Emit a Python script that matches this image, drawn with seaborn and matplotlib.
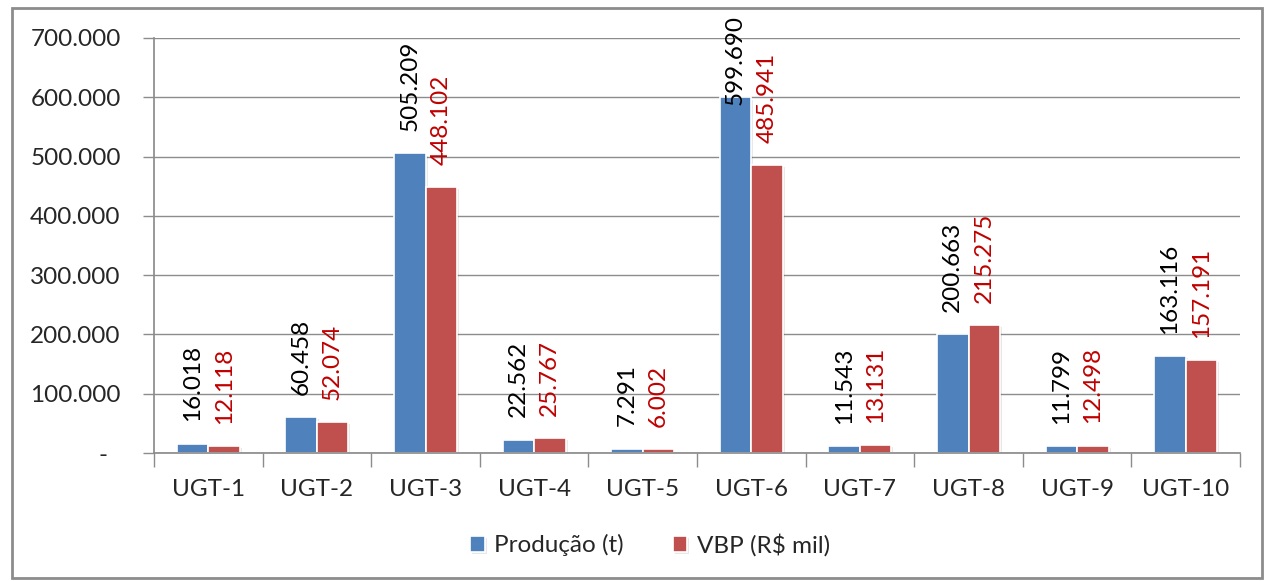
import numpy as np
import pandas as pd
import matplotlib
matplotlib.use("Agg")
import matplotlib.pyplot as plt
import matplotlib.patheffects as pe
from matplotlib.patches import Rectangle
import seaborn as sns

# data
categorias = ["UGT-1", "UGT-2", "UGT-3", "UGT-4", "UGT-5",
              "UGT-6", "UGT-7", "UGT-8", "UGT-9", "UGT-10"]
producao = [16018, 60458, 505209, 22562, 7291, 599690, 11543, 200663, 11799, 163116]
vbp = [12118, 52074, 448102, 25767, 6002, 485941, 13131, 215275, 12498, 157191]
series = ["Produção (t)", "VBP (R$ mil)"]
yticks = [0, 100000, 200000, 300000, 400000, 500000, 600000, 700000]

df = pd.DataFrame({
    "UGT": categorias * 2,
    "serie": [series[0]] * len(categorias) + [series[1]] * len(categorias),
    "valor": producao + vbp,
})

sns.set_theme(style="white")
plt.rcParams['font.family'] = ['Lato', 'DejaVu Sans']

cores = ["#4F81BD", "#C0504D"]
cor_txt = ["#000000", "#C00000"]
grid_c = "#8C8C8C"
fs = 17.5

fig = plt.figure(figsize=(12.73, 5.81), dpi=100)
ax = fig.add_axes([154 / 1273, 1 - 453 / 581, (1240 - 154) / 1273, (453 - 38) / 581])

sns.barplot(data=df, x="UGT", y="valor", hue="serie", hue_order=series,
            palette=cores, width=0.58, saturation=1, ax=ax,
            edgecolor="white", linewidth=1.2, legend=True)

# soft shadow like the excel bars
for p in ax.patches:
    p.set_path_effects([pe.SimplePatchShadow(offset=(1.5, -1.5), alpha=0.1), pe.Normal()])

# value labels, rotated, brazilian thousands separator
anns = []
for i, cont in enumerate(ax.containers):
    labels = [f"{int(v):,}".replace(",", ".") for v in cont.datavalues]
    anns += ax.bar_label(cont, labels=labels, rotation=90, padding=16,
                         color=cor_txt[i], fontsize=fs)

ax.set_ylim(0, 700000)
ax.set_xlim(-0.5, len(categorias) - 0.5)
ax.set_yticks(yticks)
ax.set_yticklabels(["-  "] + [f"{v:,}".replace(",", ".") for v in yticks[1:]])
ax.yaxis.grid(True, color=grid_c, linewidth=1)
ax.set_axisbelow(True)
ax.set_xlabel("")
ax.set_ylabel("")

ax.set_xticks(np.arange(-0.5, len(categorias)), minor=True)
ax.tick_params(axis="x", which="major", length=0, pad=19, labelsize=fs, labelcolor="#262626")
ax.tick_params(axis="x", which="minor", length=10, width=1, color=grid_c, direction="out", bottom=True)
ax.tick_params(axis="y", which="major", length=8, width=1, color=grid_c, direction="out", left=True,
               pad=16, labelsize=fs, labelcolor="#262626")

for s in ["top", "right"]:
    ax.spines[s].set_visible(False)
ax.spines["left"].set_color(grid_c)
ax.spines["bottom"].set_color(grid_c)

ax.legend_.remove()
h, l = ax.get_legend_handles_labels()
fig.legend(h[:2], l[:2], loc="center", bbox_to_anchor=(650 / 1273, 1 - 545 / 581),
           ncol=2, frameon=False, fontsize=fs, handlelength=0.6, handleheight=0.6,
           handletextpad=0.4, columnspacing=2.0, labelcolor="#262626")

# chart border
fig.add_artist(Rectangle((12 / 1273, 3 / 581), (1262 - 12) / 1273, (573 - 3) / 581,
                         transform=fig.transFigure, fill=False, edgecolor="#8C8C8C", linewidth=2))

# keep labels inside the chart area, like excel does
fig.canvas.draw()
r = fig.canvas.get_renderer()
top_px = 581 - 15
for a in anns:
    bb = a.get_window_extent(r)
    if bb.y1 > top_px:
        over = (bb.y1 - top_px) * 72 / fig.dpi
        x0, y0 = a.xyann
        a.xyann = (x0, y0 - over)

fig.savefig("out.png", dpi=100)
